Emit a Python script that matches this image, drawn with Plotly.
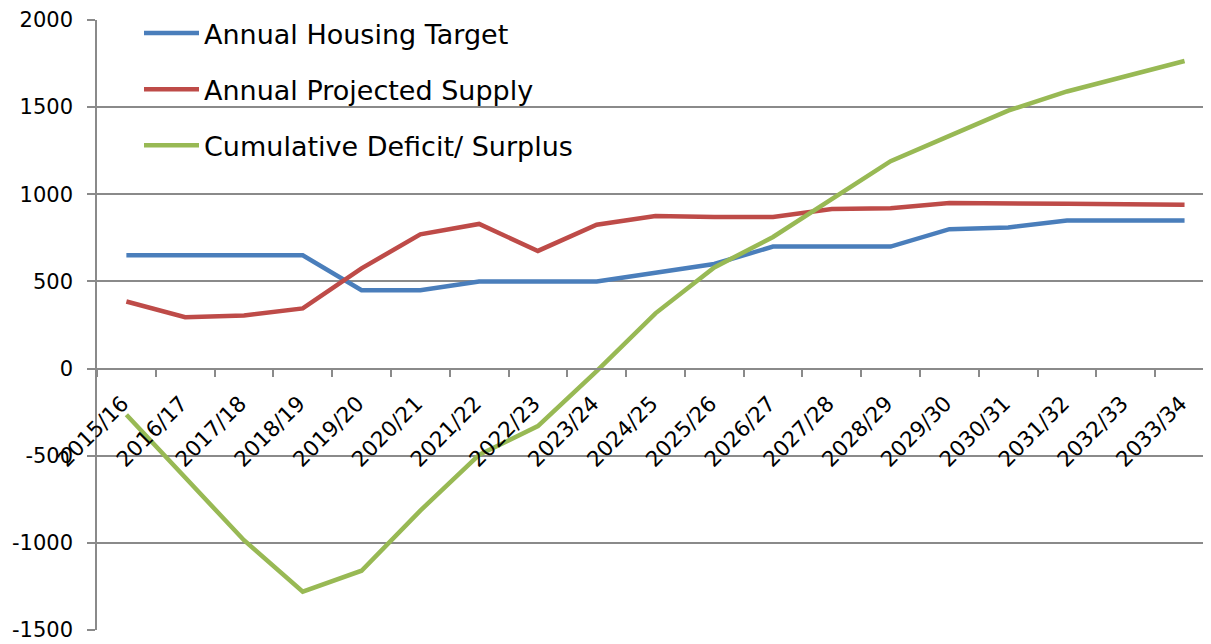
import plotly.graph_objects as go

categories = ["2015/16", "2016/17", "2017/18", "2018/19", "2019/20", "2020/21",
              "2021/22", "2022/23", "2023/24", "2024/25", "2025/26", "2026/27",
              "2027/28", "2028/29", "2029/30", "2030/31", "2031/32", "2032/33",
              "2033/34"]
housing_target = [650, 650, 650, 650, 450, 450, 500, 500, 500, 550, 600, 700,
                  700, 700, 800, 810, 850, 850, 850]
projected_supply = [385, 295, 305, 345, 575, 770, 830, 675, 825, 875, 870, 870,
                    915, 920, 950, 945, 945, 943, 940]
cumulative = [-265, -625, -985, -1280, -1160, -815, -495, -330, -15, 317, 580,
              755, 970, 1190, 1335, 1480, 1590, 1675, 1765]
y_ticks = [-1500, -1000, -500, 0, 500, 1000, 1500, 2000]
y_tick_labels = ["-1500", "-1000", "-500", "0", "500", "1000", "1500", "2000"]

series = [
    ("Annual Housing Target", housing_target, "#4A7EBB"),
    ("Annual Projected Supply", projected_supply, "#BE4B48"),
    ("Cumulative Deficit/ Surplus", cumulative, "#98B954"),
]

fig = go.Figure()
for i, (name, vals, col) in enumerate(series):
    fig.add_trace(go.Scatter(
        x=categories, y=vals, name=name, mode="lines",
        line=dict(color=col, width=4.5),
        legendgroup=f"g{i}",
    ))

grid = "#8A8A8A"
fig.update_layout(
    width=1203, height=636,
    margin=dict(l=89, r=0, t=12, b=14, autoexpand=False),
    paper_bgcolor="white", plot_bgcolor="white",
    font=dict(family="DejaVu Sans, Verdana, sans-serif", color="black", size=21),
    showlegend=True,
    legend=dict(
        x=0.0377, y=1.018, xanchor="left", yanchor="top",
        bgcolor="rgba(0,0,0,0)", font=dict(size=27),
        tracegroupgap=18, itemwidth=55,
    ),
    xaxis=dict(
        type="category", range=[-0.5, 18.45],
        anchor="free", position=1500 / 3500,
        showline=True, linecolor=grid, linewidth=1.5,
        ticks="outside", tickson="boundaries", ticklen=8, tickcolor=grid, tickwidth=1.5,
        tickangle=-45, tickfont=dict(size=21.5),
        ticklabelstandoff=13, ticklabelshift=-4,
        showgrid=False, zeroline=False, automargin=False,
    ),
    yaxis=dict(
        range=[-1500, 2000], tickvals=y_ticks, ticktext=y_tick_labels,
        showline=True, linecolor=grid, linewidth=1.5,
        ticks="outside", ticklen=8, tickcolor=grid, tickwidth=1.5,
        showgrid=True, gridcolor=grid, gridwidth=1.5,
        zeroline=False, tickfont=dict(size=21),
        ticklabelstandoff=10, automargin=False,
    ),
)

fig.write_html("out.html")
